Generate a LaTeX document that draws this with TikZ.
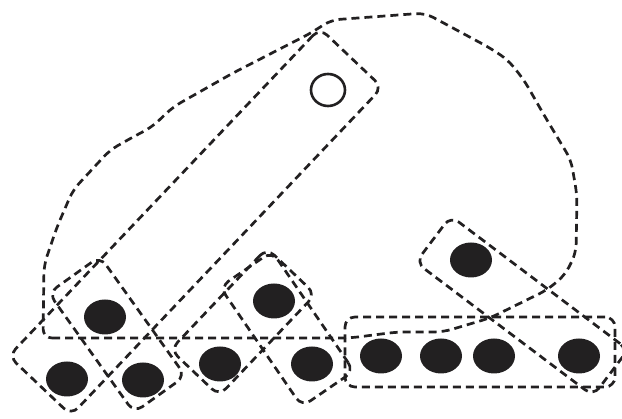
\documentclass[tikz,border=0pt]{standalone}
\usepackage{tikz}
\usetikzlibrary{shapes.geometric}
\definecolor{inkgray}{RGB}{34,32,33}

\begin{document}
\begin{tikzpicture}[x=1pt,y=-1pt,
    dot/.style={ellipse,fill=inkgray,minimum width=42pt,minimum height=35pt,inner sep=0pt},
    hole/.style={ellipse,draw=inkgray,fill=white,line width=2.6pt,minimum width=34pt,minimum height=32pt,inner sep=0pt},
    hedge/.style={draw=inkgray,line width=2.7pt,dash pattern=on 8pt off 5pt,rounded corners=10pt,inner sep=0pt}]
    \useasboundingbox (0,0) rectangle (622,419);

    % Outer hull
    \draw[hedge,rounded corners=9pt] (43,338) -- (350,338) -- (397,332) -- (443,332)
        -- (490,318) -- (547,290) -- (565,275) -- (576,253) -- (577,195) -- (571,160)
        -- (544,115) -- (524,80) -- (508,60) -- (490,48) -- (425,13) -- (331,20)
        -- (311,33) -- (233,73) -- (173,107) -- (152,127) -- (133,137) -- (110,150)
        -- (73,190) -- (57,227) -- (44,265) -- cycle;

    % Edges
    \node[hedge,rectangle,minimum width=452pt,minimum height=86pt,rotate=46.5] (eL) at (195.5,221.75) {};
    \node[hedge,rectangle,minimum width=147pt,minimum height=63pt,rotate=-54.5] (e13) at (117,334.5) {};
    \node[hedge,rectangle,minimum width=140pt,minimum height=67pt,rotate=46.5] (e45) at (243,322) {};
    \node[hedge,rectangle,minimum width=145pt,minimum height=63pt,rotate=-55.6] (e56) at (287,329) {};
    \node[hedge,rectangle,minimum width=270pt,minimum height=70pt] (eH) at (480,352) {};
    \node[hedge,rectangle,minimum width=222pt,minimum height=58pt,rotate=-37] (eD) at (522,306) {};

    % Vertices
    \node[hole] (w) at (328,90) {};
    \node[dot] (v1) at (105,317) {};
    \node[dot] (v2) at (67,379) {};
    \node[dot] (v3) at (143,380) {};
    \node[dot] (v4) at (220,364) {};
    \node[dot] (v5) at (274,301) {};
    \node[dot] (v6) at (312,364) {};
    \node[dot] (v7) at (381,356) {};
    \node[dot] (v8) at (441,356) {};
    \node[dot] (v9) at (494,356) {};
    \node[dot] (v10) at (579,356) {};
    \node[dot] (v11) at (471,260) {};
\end{tikzpicture}
\end{document}
